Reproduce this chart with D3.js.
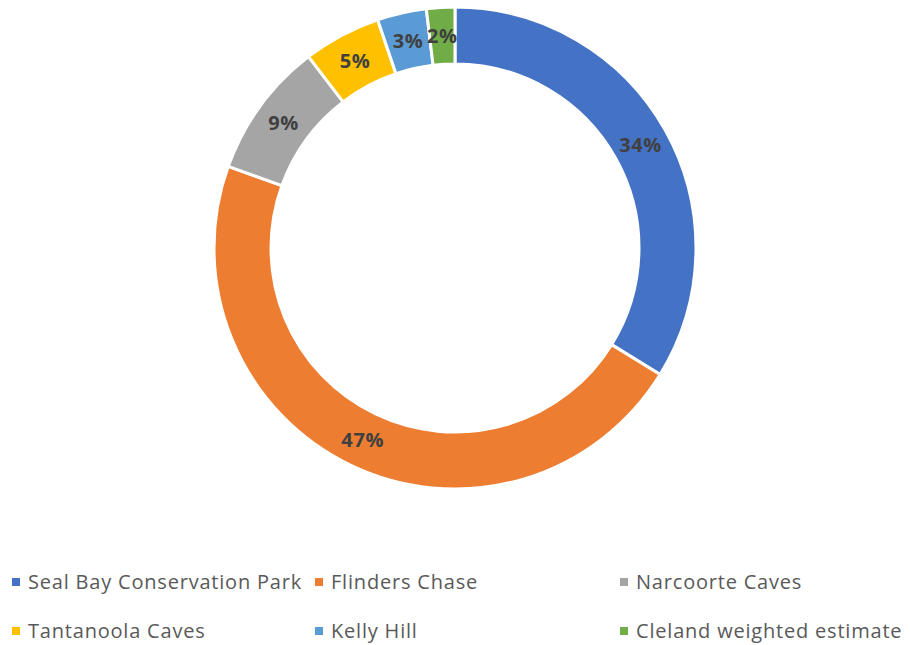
<!DOCTYPE html>
<html>
<head>
<meta charset="utf-8">
<script src="https://cdn.jsdelivr.net/npm/d3@7"></script>
<style>
  body { margin: 0; background: #fff; }
  svg text { font-family: "Open Sans", sans-serif; }
</style>
</head>
<body>
<div id="chart"></div>
<script>
// data (percent shares)
const sites = ["Seal Bay Conservation Park", "Flinders Chase", "Narcoorte Caves",
  "Tantanoola Caves", "Kelly Hill", "Cleland weighted estimate"]
const shares = [33.8, 46.7, 9.1, 5.2, 3.3, 1.9]
const colours = ["#4472C4", "#ED7D31", "#A5A5A5", "#FFC000", "#5B9BD5", "#70AD47"]

const width = 910
const height = 645
const cx = 455
const cy = 248
const outerR = 241
const innerR = 184

const chart = d3.select('#chart')
  .append('svg')
  .attr('width', width)
  .attr('height', height)

const pie = d3.pie().sort(null).value(d => d)
const arcs = pie(shares)
const arc = d3.arc().innerRadius(innerR).outerRadius(outerR)

const ring = chart.append('g')
  .attr('transform', 'translate(' + cx + ',' + cy + ')')

ring.selectAll('path')
  .data(arcs)
  .enter()
  .append('path')
  .attr('d', arc)
  .attr('fill', (d, i) => colours[i])
  .attr('stroke', '#fff')
  .attr('stroke-width', 3)

// percentage labels in the middle of the band
ring.selectAll('text')
  .data(arcs)
  .enter()
  .append('text')
  .attr('transform', d => 'translate(' + arc.centroid(d) + ')')
  .attr('text-anchor', 'middle')
  .attr('dy', '0.36em')
  .style('font-size', '20px')
  .style('font-weight', 'bold')
  .style('letter-spacing', '0.6px')
  .style('fill', '#404040')
  .text(d => Math.round(d.data) + '%')

// legend, 3 columns x 2 rows
const colX = [12, 315, 620]
const rowY = [582, 631]

const legend = chart.append('g')
  .selectAll('g')
  .data(sites)
  .enter()
  .append('g')
  .attr('transform', (d, i) => 'translate(' + colX[i % 3] + ',' + rowY[Math.floor(i / 3)] + ')')

legend.append('rect')
  .attr('x', 0)
  .attr('y', -4)
  .attr('width', 8)
  .attr('height', 8)
  .attr('fill', (d, i) => colours[i])

legend.append('text')
  .attr('x', 16)
  .attr('dy', '0.35em')
  .style('font-size', '20px')
  .style('letter-spacing', '0.8px')
  .style('fill', '#595959')
  .text(d => d)
</script>
</body>
</html>
